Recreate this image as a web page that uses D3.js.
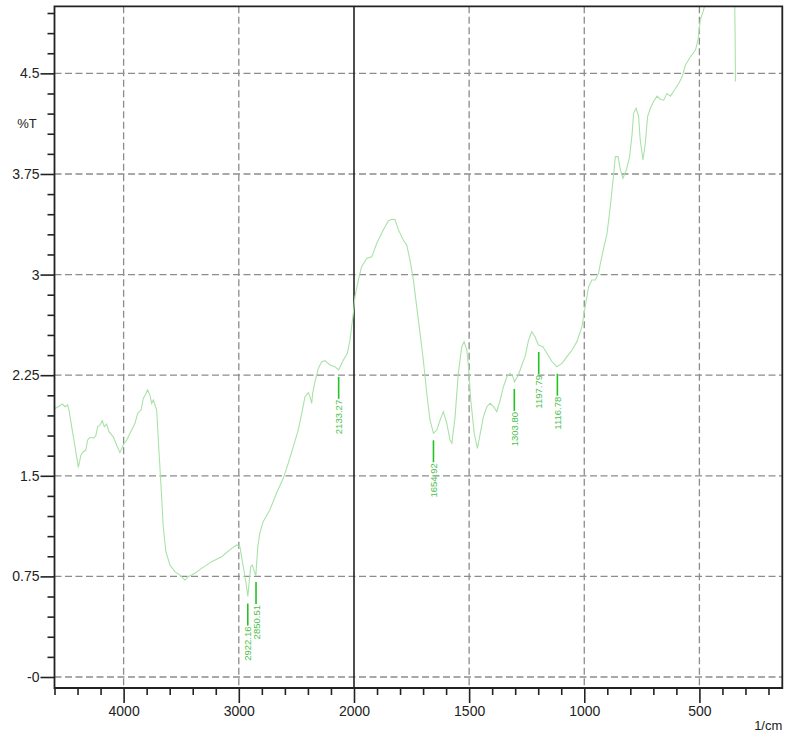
<!DOCTYPE html>
<html><head><meta charset="utf-8">
<script src="https://cdn.jsdelivr.net/npm/d3@7"></script>
<style>body{margin:0;background:#fff} text{font-family:"Liberation Sans",Arial,sans-serif}</style>
</head><body><svg id="c" width="785" height="738"></svg>
<script>
// ---- data ----
const wavenumbers = [4600,4556,4532,4509,4486,4474,4451,4422,4393,4370,4350,4329,4312,4292,4263,4242,4225,4205,4185,4168,4147,4127,4090,4061,4032,4003,3973,3930,3901,3878,3849,3829,3808,3791,3771,3756,3742,3728,3713,3699,3685,3670,3656,3633,3598,3555,3511,3468,3439,3381,3323,3236,3149,3062,3018,2990,2961,2937,2922,2911,2897,2883,2870,2852,2845,2835,2818,2789,2760,2731,2673,2614,2571,2527,2484,2454,2425,2397,2382,2367,2359,2339,2310,2280,2252,2208,2165,2133,2092,2058,2035,2006,1996,1981,1967,1945,1923,1901,1873,1851,1836,1822,1807,1786,1771,1757,1742,1727,1713,1699,1684,1670,1655,1640,1626,1612,1597,1583,1575,1561,1547,1532,1522,1510,1503,1493,1478,1464,1449,1438,1423,1409,1394,1380,1365,1351,1336,1322,1310,1303,1286,1271,1257,1242,1228,1214,1199,1180,1162,1140,1119,1097,1075,1053,1032,1010,996,981,967,952,938,930,916,901,887,875,865,853,843,832,817,803,792,786,775,764,757,745,735,725,713,699,684,670,655,641,626,609,590,575,561,539,517,506,496,484,470,450,400,360,348,345,343.5];
const transmittance = [2.00,2.02,2.035,2.015,2.028,1.99,1.866,1.717,1.563,1.655,1.68,1.69,1.767,1.787,1.78,1.797,1.866,1.879,1.911,1.866,1.886,1.829,1.79,1.73,1.672,1.73,1.767,1.841,1.891,1.966,1.99,2.077,2.11,2.14,2.10,2.04,2.065,2.028,1.99,1.767,1.568,1.344,1.12,0.934,0.835,0.785,0.76,0.723,0.748,0.773,0.81,0.86,0.897,0.959,0.984,0.97,0.822,0.699,0.60,0.699,0.822,0.835,0.80,0.755,0.85,0.97,1.07,1.158,1.20,1.245,1.37,1.481,1.593,1.717,1.841,1.966,2.09,2.12,2.09,2.04,2.115,2.2,2.30,2.35,2.358,2.326,2.313,2.29,2.363,2.413,2.512,2.71,2.835,2.96,3.059,3.12,3.133,3.233,3.333,3.40,3.412,3.41,3.333,3.258,3.22,3.109,2.96,2.75,2.562,2.363,2.115,1.916,1.817,1.841,1.916,1.978,1.891,1.767,1.742,1.941,2.264,2.462,2.50,2.438,2.313,2.065,1.817,1.705,1.841,1.941,2.015,2.04,2.015,1.978,2.065,2.164,2.239,2.264,2.239,2.20,2.252,2.326,2.388,2.512,2.574,2.537,2.475,2.462,2.413,2.35,2.313,2.338,2.388,2.438,2.50,2.612,2.761,2.91,2.96,2.96,3.01,3.083,3.196,3.308,3.506,3.705,3.879,3.879,3.78,3.718,3.78,3.879,4.053,4.202,4.24,4.177,4.003,3.854,3.979,4.177,4.24,4.29,4.33,4.307,4.30,4.35,4.33,4.374,4.424,4.474,4.56,4.624,4.674,4.75,4.90,4.96,5.05,5.3,5.6,5.6,5.2,4.8,4.44];

const peakWavenumbers = [2922.16,2850.51,2133.27,1654.92,1303.80,1197.79,1116.78];
const peakLabels = ["2922.16","2850.51","2133.27","1654.92","1303.80","1197.79","1116.78"];
const peakTransmittance = [0.60,0.76,2.29,1.817,2.20,2.475,2.313];

const yTickValues = [0,0.75,1.5,2.25,3,3.75,4.5];
const yTickLabels = ["-0","0.75","1.5","2.25","3","3.75","4.5"];
const yMinorTicks = [0.15,0.3,0.45,0.6,0.9,1.05,1.2,1.35,1.65,1.8,1.95,2.1,2.4,2.55,2.7,2.85,3.15,3.3,3.45,3.6,3.9,4.05,4.2,4.35,4.65,4.8,4.95];
const xTickValues = [4000,3000,2000,1500,1000,500];
const xTickLabels = ["4000","3000","2000","1500","1000","500"];
const xMinorTicks = [4600,4400,4200,3800,3600,3400,3200,2800,2600,2400,2200,1900,1800,1700,1600,1400,1300,1200,1100,900,800,700,600,400,300,200];
const xBreak = 2000;
const yAxisTitle = "%T";
const xAxisTitle = "1/cm";

// ---- layout ----
const L = 54.5, R = 782.3, T = 6.3, B = 688;
const svg = d3.select("#c");
const x = d3.scaleLinear().domain([4600, 2000, 140]).range([L, 354, R]);
const y = d3.scaleLinear().domain([-0.082, 5.0]).range([B, T]);

svg.append("defs").append("clipPath").attr("id","clip")
  .append("rect").attr("x",L).attr("y",T).attr("width",R-L).attr("height",B-T);

// grid
const grid = svg.append("g").attr("stroke","#8c8c8c").attr("stroke-width",1.3).attr("stroke-dasharray","7,3.5");
grid.selectAll("line.h").data(yTickValues).join("line").attr("class","h")
  .attr("x1",L).attr("x2",R).attr("y1",d=>y(d)).attr("y2",d=>y(d));
grid.selectAll("line.v").data(xTickValues.filter(d=>d!==xBreak)).join("line").attr("class","v")
  .attr("y1",T).attr("y2",B).attr("x1",d=>x(d)).attr("x2",d=>x(d));

// axis break line at 2000
svg.append("line").attr("x1",x(xBreak)).attr("x2",x(xBreak)).attr("y1",T).attr("y2",B)
  .attr("stroke","#222").attr("stroke-width",1.6);

// spectrum
const data = wavenumbers.map((w,i)=>({w, t: transmittance[i]}));
svg.append("path").datum(data).attr("clip-path","url(#clip)")
  .attr("fill","none").attr("stroke","#a9e2a9").attr("stroke-width",1.1)
  .attr("d", d3.line().x(d=>x(d.w)).y(d=>y(d.t)));

// peak markers
const gap = 7, mlen = 22;
const pk = svg.append("g");
peakWavenumbers.forEach((w,i)=>{
  const px = x(w), py = y(peakTransmittance[i]) + gap;
  pk.append("line").attr("x1",px).attr("x2",px).attr("y1",py).attr("y2",py+mlen)
    .attr("stroke","#22c322").attr("stroke-width",1.6);
  pk.append("text").attr("transform",`translate(${px},${py+mlen+1}) rotate(-90)`)
    .attr("text-anchor","end").attr("dominant-baseline","central")
    .attr("font-size","9.5px").attr("fill","#4cbf4c").text(peakLabels[i]);
});

// axes
const yAx = svg.append("g").attr("transform",`translate(${L},0)`)
  .call(d3.axisLeft(y).tickValues(yTickValues).tickFormat((d,i)=>yTickLabels[i]).tickSize(14).tickPadding(1));
const yMin = svg.append("g").attr("transform",`translate(${L},0)`)
  .call(d3.axisLeft(y).tickValues(yMinorTicks).tickFormat("").tickSize(7));
const xAx = svg.append("g").attr("transform",`translate(0,${B})`)
  .call(d3.axisBottom(x).tickValues(xTickValues).tickFormat((d,i)=>xTickLabels[i]).tickSize(15).tickPadding(2));
const xMin = svg.append("g").attr("transform",`translate(0,${B})`)
  .call(d3.axisBottom(x).tickValues(xMinorTicks).tickFormat("").tickSize(7));
[yAx,yMin,xAx,xMin].forEach(g=>{
  g.select(".domain").remove();
  g.selectAll(".tick line").attr("stroke","#222").attr("stroke-width",1.6);
  g.selectAll("text").attr("font-size","14px").attr("fill","#222")
    .attr("font-family","'Liberation Sans',Arial,sans-serif");
});
xAx.selectAll("text").attr("dy","0.75em");

// frame
svg.append("path").attr("fill","none").attr("stroke","#222").attr("stroke-width",1.8)
  .attr("d",`M${L},${B}V${T}H${R}V${B}Z`);

svg.append("text").attr("x",27).attr("y",y(4.125)).attr("text-anchor","middle")
  .attr("dominant-baseline","central").attr("font-size","13px").attr("fill","#222").text(yAxisTitle);
svg.append("text").attr("x",R).attr("y",725).attr("text-anchor","end")
  .attr("dominant-baseline","central").attr("font-size","13px").attr("fill","#222").text(xAxisTitle);
</script></body></html>
